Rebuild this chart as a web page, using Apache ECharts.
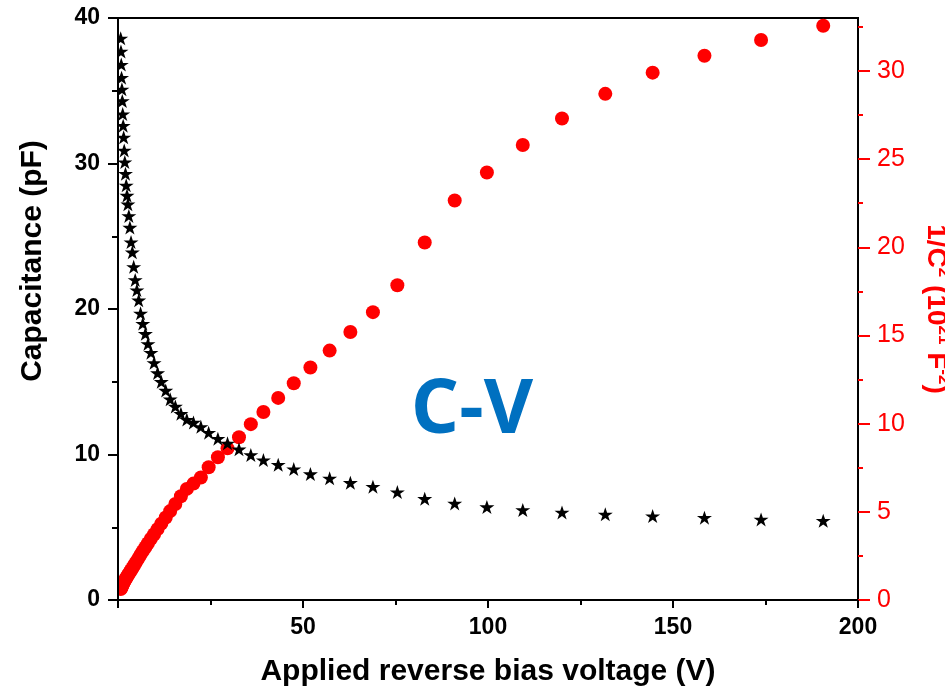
<!DOCTYPE html>
<html>
<head>
<meta charset="utf-8">
<script src="https://cdn.jsdelivr.net/npm/echarts@6/dist/echarts.min.js"></script>
<style>
  html, body { margin: 0; padding: 0; background: #fff; }
  #chart { width: 945px; height: 696px; }
</style>
</head>
<body>
<div id="chart"></div>
<script>
// Applied reverse bias (V)
const voltage = [0.73, 0.80, 0.88, 0.96, 1.06, 1.16, 1.27, 1.40, 1.53, 1.68,
  1.84, 2.02, 2.22, 2.43, 2.67, 2.93, 3.21, 3.52, 3.87, 4.24,
  4.65, 5.1, 5.6, 6.1, 6.7, 7.4, 8.1, 8.9, 9.75, 10.7,
  11.7, 12.9, 14.1, 15.5, 17.0, 18.6, 20.4, 22.4, 24.5, 27.0,
  29.6, 32.7, 35.9, 39.3, 43.3, 47.5, 52.0, 57.2, 62.8, 68.9,
  75.5, 82.9, 91.0, 99.7, 109.4, 120.0, 131.7, 144.5, 158.5, 173.8, 190.6];

// Capacitance (pF)
const capacitance = [38.6, 37.7, 36.8, 35.9, 35.1, 34.3, 33.4, 32.6, 31.8, 30.9,
  30.1, 29.3, 28.5, 27.8, 27.2, 26.4, 25.6, 24.6, 23.9, 22.9,
  22.0, 21.3, 20.6, 19.7, 19.0, 18.3, 17.6, 17.0, 16.3, 15.6,
  15.0, 14.4, 13.8, 13.3, 12.8, 12.4, 12.2, 11.9, 11.5, 11.09,
  10.77, 10.36, 9.97, 9.62, 9.30, 9.00, 8.66, 8.36, 8.06, 7.79,
  7.42, 6.96, 6.64, 6.39, 6.19, 6.02, 5.89, 5.77, 5.66, 5.54, 5.45];

// 1/C^2 (10^21 F^-2)
const invCapSq = [0.62, 0.66, 0.70, 0.74, 0.78, 0.83, 0.88, 0.93, 0.99, 1.05,
  1.11, 1.18, 1.25, 1.32, 1.40, 1.49, 1.58, 1.69, 1.80, 1.93,
  2.07, 2.22, 2.39, 2.57, 2.77, 2.99, 3.22, 3.47, 3.73, 4.02,
  4.33, 4.68, 5.04, 5.44, 5.88, 6.30, 6.60, 6.95, 7.53, 8.09,
  8.60, 9.23, 9.97, 10.66, 11.46, 12.29, 13.18, 14.14, 15.2, 16.32,
  17.85, 20.27, 22.65, 24.24, 25.8, 27.3, 28.7, 29.9, 30.86, 31.75, 32.56];

// Tick values of the right-hand axis
const rightMajorTicks = [0, 5, 10, 15, 20, 25, 30];
const rightMinorTicks = [2.5, 7.5, 12.5, 17.5, 22.5, 27.5, 32.5];

const FONT = '"Liberation Sans", Arial, sans-serif';
const RED = '#ff0000';

const starPath = 'path://M50,0 L61.8,35.1 L98.9,35.1 L68.8,56.8 L80.3,91.9 L50,70.2 L19.7,91.9 L31.2,56.8 L1.1,35.1 L38.2,35.1 Z';

const frame = { left: 118, right: 87, top: 18, bottom: 96, outerBoundsMode: 'none', containLabel: false };

const chart = echarts.init(document.getElementById('chart'), null, { renderer: 'canvas' });

const option = {
  animation: false,
  backgroundColor: '#fff',
  grid: [
    Object.assign({ show: true, borderColor: '#000', borderWidth: 2, backgroundColor: 'transparent' }, frame),
    Object.assign({ show: false }, frame)
  ],
  xAxis: [
    {
      type: 'value', gridIndex: 0, min: 0, max: 200, interval: 50, z: 6,
      axisLine: { show: true, onZero: false, lineStyle: { color: '#000', width: 2 } },
      axisTick: { show: true, inside: false, length: 8, lineStyle: { color: '#000', width: 2 } },
      minorTick: { show: true, splitNumber: 2, length: 5, lineStyle: { color: '#000', width: 2 } },
      axisLabel: { showMinLabel: false, color: '#000', fontSize: 23, fontWeight: 'bold', fontFamily: FONT, margin: 16 },
      splitLine: { show: false },
      name: 'Applied reverse bias voltage (V)',
      nameLocation: 'middle', nameGap: 57,
      nameTextStyle: { color: '#000', fontSize: 30, fontWeight: 'bold', fontFamily: FONT }
    },
    {
      type: 'value', gridIndex: 1, min: 0, max: 200, show: false
    }
  ],
  yAxis: [
    {
      type: 'value', gridIndex: 0, min: 0, max: 40, interval: 10, position: 'left', z: 6,
      axisLine: { show: true, onZero: false, lineStyle: { color: '#000', width: 2 } },
      axisTick: { show: true, inside: false, length: 10, lineStyle: { color: '#000', width: 2 } },
      minorTick: { show: true, splitNumber: 2, length: 6, lineStyle: { color: '#000', width: 2 } },
      axisLabel: { color: '#000', fontSize: 23, fontWeight: 'bold', fontFamily: FONT, margin: 18 },
      splitLine: { show: false },
      name: 'Capacitance (pF)',
      nameLocation: 'middle', nameGap: 70,
      nameTextStyle: { color: '#000', fontSize: 30, fontWeight: 'bold', fontFamily: FONT, padding: [0, 0, 0, 96] }
    },
    {
      type: 'value', gridIndex: 0, min: 0, max: 33, position: 'right', z: 6,
      axisLine: { show: true, onZero: false, lineStyle: { color: '#000', width: 2 } },
      axisTick: { show: true, inside: false, length: 12, customValues: rightMajorTicks, lineStyle: { color: RED, width: 2 } },
      axisLabel: { customValues: rightMajorTicks, color: RED, fontSize: 25, fontFamily: FONT, margin: 19 },
      splitLine: { show: false },
      name: '{m|1/C}{s|2}{m| (10}{s|21}{m| F}{s|-2}{m|)}',
      nameLocation: 'middle', nameGap: 62, nameRotate: -90,
      nameTextStyle: {
        color: RED, fontSize: 28, fontWeight: 'bold', fontFamily: FONT,
        rich: {
          m: { color: RED, fontSize: 28, fontWeight: 'bold', fontFamily: FONT, lineHeight: 32 },
          s: { color: RED, fontSize: 17, fontWeight: 'bold', fontFamily: FONT, verticalAlign: 'top', lineHeight: 18 }
        }
      }
    },
    {
      // minor ticks of the right-hand axis
      type: 'value', gridIndex: 1, min: 0, max: 33, position: 'right', z: 6,
      axisLine: { show: false, onZero: false },
      axisTick: { show: true, inside: false, length: 5, customValues: rightMinorTicks, lineStyle: { color: RED, width: 2 } },
      axisLabel: { show: false },
      splitLine: { show: false }
    }
  ],
  graphic: [
    {
      // keeps markers inside the frame on the left
      type: 'rect', z: 4, silent: true,
      shape: { x: 0, y: 0, width: 117, height: 610 },
      style: { fill: '#fff' }
    },
    {
      type: 'text', z: 5, silent: true,
      x: 472, y: 411,
      style: {
        text: 'C-V', fill: '#0070C0',
        font: 'bold 76px "Open Sans", "Noto Sans", sans-serif',
        textAlign: 'center', textVerticalAlign: 'middle'
      }
    }
  ],
  series: [
    {
      name: '1/C2', type: 'scatter', xAxisIndex: 0, yAxisIndex: 1, z: 2,
      symbol: 'circle', symbolSize: 14,
      itemStyle: { color: RED, opacity: 1 },
      data: voltage.map((v, i) => [v, invCapSq[i]])
    },
    {
      name: 'C', type: 'scatter', xAxisIndex: 0, yAxisIndex: 0, z: 3,
      symbol: starPath, symbolSize: [15, 14],
      itemStyle: { color: '#000', opacity: 1 },
      data: voltage.map((v, i) => [v, capacitance[i]])
    }
  ]
};

chart.setOption(option);
</script>
</body>
</html>
